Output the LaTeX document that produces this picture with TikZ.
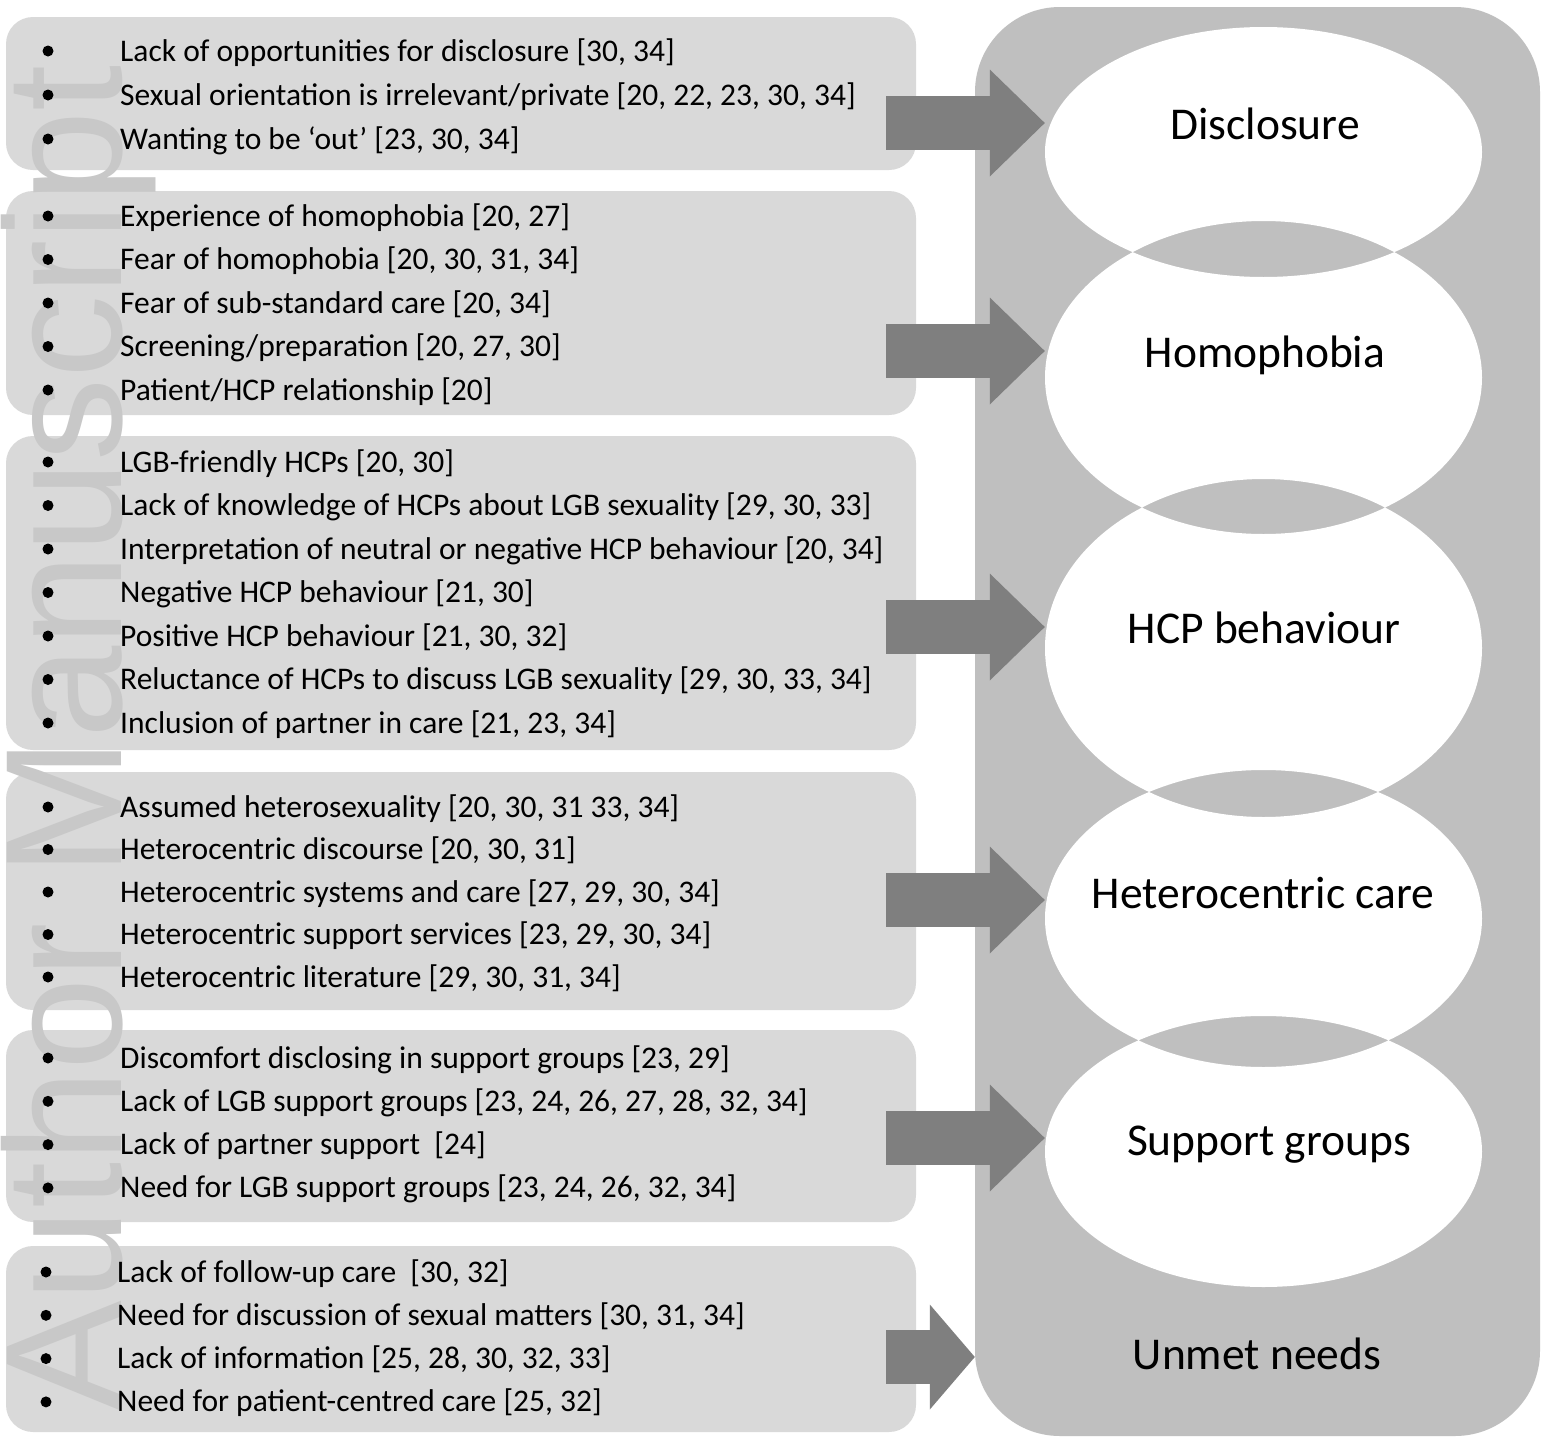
\documentclass[tikz,border=0pt]{standalone}
\usepackage{fontspec}
\setmainfont{Carlito}
\newfontfamily\markfont{Liberation Sans}
\usetikzlibrary{shapes.geometric, arrows.meta, positioning}
\definecolor{BoxGray}{HTML}{D9D9D9}
\definecolor{PanelGray}{HTML}{BFBFBF}
\definecolor{ArrowGray}{HTML}{7F7F7F}
\definecolor{MarkGray}{HTML}{C8C8C8}

\tikzset{
  themebox/.style={rectangle, rounded corners=27pt, fill=BoxGray, minimum width=910pt, inner sep=0pt},
  themeoval/.style={ellipse, minimum width=437pt, inner sep=0pt},
  bulletdot/.style={circle, fill=black, minimum size=11pt, inner sep=0pt},
  itemtext/.style={anchor=base west, inner sep=0pt, font=\fontsize{31.5}{36}\selectfont},
  themetitle/.style={anchor=base, inner sep=0pt, font=\fontsize{45.5}{52}\selectfont},
  blockarrow/.style={ArrowGray, line width=54pt, -{Triangle[length=55pt, width=107pt, line width=0pt]}},
}

\begin{document}
\begin{tikzpicture}[x=1pt, y=-1pt]
  \useasboundingbox (0,0) rectangle (1543,1438);
  \fill[white] (0,0) rectangle (1543,1438);

  % left column of themes
  \node[themebox, minimum height=153pt] (box1) at (461,93.5) {};
  \node[themebox, minimum height=224pt] (box2) at (461,303) {};
  \node[themebox, minimum height=314pt] (box3) at (461,593) {};
  \node[themebox, minimum height=238pt] (box4) at (461,891) {};
  \node[themebox, minimum height=192pt] (box5) at (461,1126) {};
  \node[themebox, minimum height=186pt] (box6) at (461,1339) {};

  \node[font=\markfont\fontsize{166}{166}\selectfont, text=MarkGray, rotate=90, anchor=base west, inner sep=0pt] (mark) at (121,1412) {Author Manuscript};

  \foreach \txt [count=\i] in {{Lack of opportunities for disclosure [30, 34]}, {Sexual orientation is irrelevant/private [20, 22, 23, 30, 34]}, {Wanting to be ‘out’ [23, 30, 34]}} {
    \node[bulletdot] (d1-\i) at (48,{51+44*(\i-1)}) {};
    \node[itemtext] (t1-\i) at (120,{61+44*(\i-1)}) {\txt};
  }
  \foreach \txt [count=\i] in {{Experience of homophobia [20, 27]}, {Fear of homophobia [20, 30, 31, 34]}, {Fear of sub-standard care [20, 34]}, {Screening/preparation [20, 27, 30]}, {Patient/HCP relationship [20]}} {
    \node[bulletdot] (d2-\i) at (48,{216+43.5*(\i-1)}) {};
    \node[itemtext] (t2-\i) at (120,{226+43.5*(\i-1)}) {\txt};
  }
  \foreach \txt [count=\i] in {{LGB-friendly HCPs [20, 30]}, {Lack of knowledge of HCPs about LGB sexuality [29, 30, 33]}, {Interpretation of neutral or negative HCP behaviour [20, 34]}, {Negative HCP behaviour [21, 30]}, {Positive HCP behaviour [21, 30, 32]}, {Reluctance of HCPs to discuss LGB sexuality [29, 30, 33, 34]}, {Inclusion of partner in care [21, 23, 34]}} {
    \node[bulletdot] (d3-\i) at (48,{462+43.5*(\i-1)}) {};
    \node[itemtext] (t3-\i) at (120,{472+43.5*(\i-1)}) {\txt};
  }
  \foreach \txt [count=\i] in {{Assumed heterosexuality [20, 30, 31 33, 34]}, {Heterocentric discourse [20, 30, 31]}, {Heterocentric systems and care [27, 29, 30, 34]}, {Heterocentric support services [23, 29, 30, 34]}, {Heterocentric literature [29, 30, 31, 34]}} {
    \node[bulletdot] (d4-\i) at (48,{807+42.5*(\i-1)}) {};
    \node[itemtext] (t4-\i) at (120,{817+42.5*(\i-1)}) {\txt};
  }
  \foreach \txt [count=\i] in {{Discomfort disclosing in support groups [23, 29]}, {Lack of LGB support groups [23, 24, 26, 27, 28, 32, 34]}, {Lack of partner support\ \ [24]}, {Need for LGB support groups [23, 24, 26, 32, 34]}} {
    \node[bulletdot] (d5-\i) at (48,{1058+43.3*(\i-1)}) {};
    \node[itemtext] (t5-\i) at (120,{1068+43.3*(\i-1)}) {\txt};
  }
  \foreach \txt [count=\i] in {{Lack of follow-up care\ \ [30, 32]}, {Need for discussion of sexual matters [30, 31, 34]}, {Lack of information [25, 28, 30, 32, 33]}, {Need for patient-centred care [25, 32]}} {
    \node[bulletdot] (d6-\i) at (46,{1272+43.3*(\i-1)}) {};
    \node[itemtext] (t6-\i) at (117,{1282+43.3*(\i-1)}) {\txt};
  }

  % right panel with overlapping ovals
  \node[rectangle, rounded corners=85pt, fill=PanelGray, minimum width=565pt, minimum height=1429pt, inner sep=0pt] (panel) at (1257.5,721.5) {};
  \node[themeoval, minimum height=250pt] (disc) at (1263.5,152) {};
  \node[themeoval, minimum height=313pt] (homo) at (1263.5,377.5) {};
  \node[themeoval, minimum height=338pt] (hcp) at (1263.5,648) {};
  \node[themeoval, minimum height=297pt] (hetero) at (1263.5,918.5) {};
  \node[themeoval, minimum height=271pt] (supp) at (1263.5,1151.5) {};
  % overlaps stay grey
  \fill[white, even odd rule]
    (disc.center) ellipse [x radius=218.5pt, y radius=125pt]
    (homo.center) ellipse [x radius=218.5pt, y radius=156.5pt]
    (hcp.center) ellipse [x radius=218.5pt, y radius=169pt]
    (hetero.center) ellipse [x radius=218.5pt, y radius=148.5pt]
    (supp.center) ellipse [x radius=218.5pt, y radius=135.5pt];

  \foreach \b/\e/\y in {box1/disc/123, box2/homo/351, box3/hcp/627, box4/hetero/900, box5/supp/1138} {
    \coordinate (s) at ([xshift=-30pt]\b.east);
    \draw[blockarrow] (s |- 0,\y) -- (\e.west |- 0,\y);
  }
  \coordinate (s6) at ([xshift=-30pt]box6.east);
  \draw[blockarrow, -{Triangle[length=45pt, width=105pt, line width=0pt]}] (s6 |- 0,1357) -- (panel.west |- 0,1357);

  \node[themetitle] (disct) at (1265,139) {Disclosure};
  \node[themetitle] (homot) at (1265,367) {Homophobia};
  \node[themetitle] (hcpt) at (1264,643) {HCP behaviour};
  \node[themetitle] (hetert) at (1263,908) {Heterocentric care};
  \node[themetitle] (suppt) at (1269,1155) {Support groups};
  \node[themetitle] (unmett) at (1257,1369) {Unmet needs};
\end{tikzpicture}
\end{document}
